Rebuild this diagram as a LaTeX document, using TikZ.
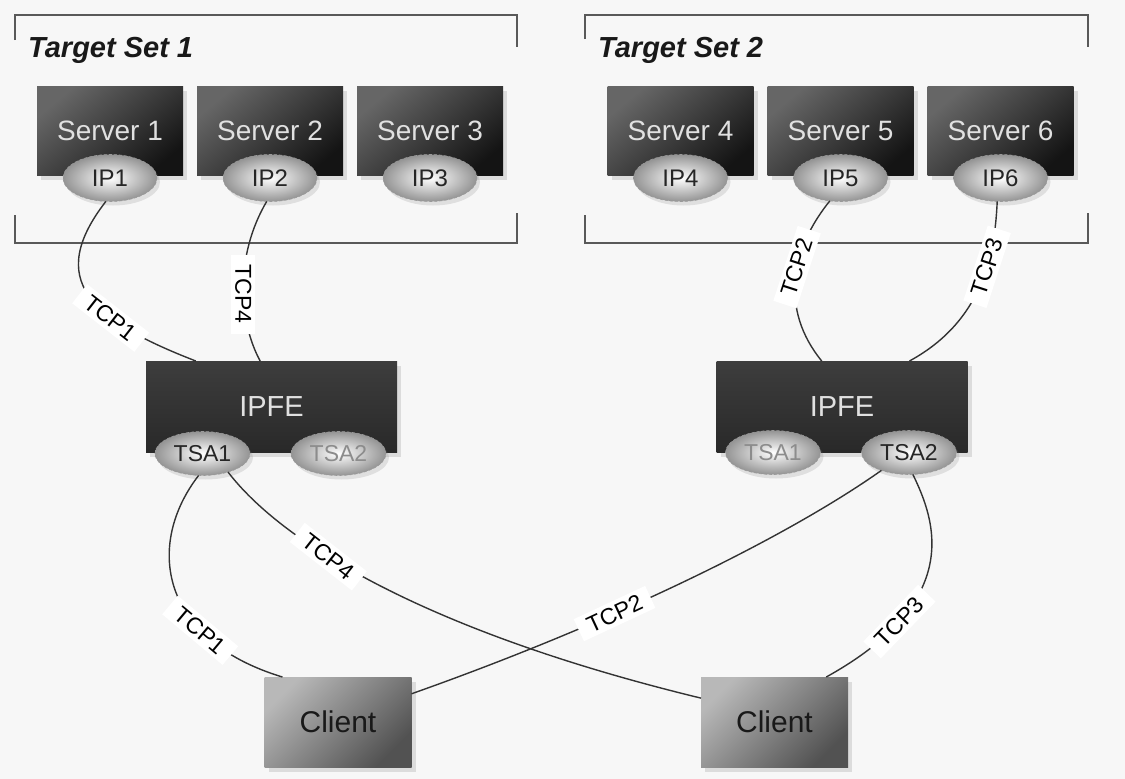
\documentclass[tikz,border=0pt]{standalone}
\usepackage{fontspec}
\setmainfont{Liberation Sans}
\usetikzlibrary{shapes.geometric, shadows}

\definecolor{paper}{RGB}{247,247,247}

\tikzstyle{server} = [rectangle, minimum width=146pt, minimum height=89pt, inner sep=0pt, outer sep=0pt, top color=black!60, bottom color=black!92, shading angle=40, text=black!12, font=\fontsize{28}{30}\selectfont, drop shadow={opacity=0.22, shadow xshift=4pt, shadow yshift=-5pt}]
\tikzstyle{ipaddr} = [ellipse, minimum width=94pt, minimum height=47pt, inner sep=0pt, outer sep=0pt, draw=black!40, densely dashed, line width=0.6pt, inner color=white, outer color=black!42, text=black!85, font=\fontsize{24}{26}\selectfont, drop shadow={opacity=0.2, shadow xshift=3pt, shadow yshift=-4pt}]
\tikzstyle{frontend} = [rectangle, minimum width=251pt, minimum height=91pt, inner sep=0pt, outer sep=0pt, top color=black!76, bottom color=black!84, text=black!12, font=\fontsize{29}{31}\selectfont, drop shadow={opacity=0.22, shadow xshift=4pt, shadow yshift=-5pt}]
\tikzstyle{tsa} = [ellipse, minimum width=95pt, minimum height=44pt, inner sep=0pt, outer sep=0pt, draw=black!40, densely dashed, line width=0.6pt, inner color=white, outer color=black!42, text=black!85, font=\fontsize{23}{25}\selectfont, drop shadow={opacity=0.2, shadow xshift=3pt, shadow yshift=-4pt}]
\tikzstyle{idle} = [text=black!45]
\tikzstyle{client} = [rectangle, minimum width=147pt, minimum height=90pt, inner sep=0pt, outer sep=0pt, top color=black!28, bottom color=black!68, shading angle=45, text=black!90, font=\fontsize{30}{32}\selectfont, drop shadow={opacity=0.22, shadow xshift=4pt, shadow yshift=-5pt}]
\tikzstyle{bracket} = [draw=black!65, line width=2pt]
\tikzstyle{link} = [draw=black!80, line width=1.4pt]
\tikzstyle{conn} = [fill=white, text=black, inner xsep=10pt, inner ysep=4pt, font=\fontsize{23}{25}\selectfont]
\tikzstyle{setname} = [anchor=base west, inner sep=0pt, text=black!90, font=\fontsize{29}{31}\selectfont\bfseries\itshape]

\begin{document}
\begin{tikzpicture}[x=1pt, y=-1pt, node distance=160pt]

\fill [paper] (0,0) rectangle (1125,779);
\useasboundingbox (0,0) rectangle (1125,779);

\draw [bracket] (15,40) -- (15,15) -- (517,15) -- (517,47);
\draw [bracket] (15,215) -- (15,243) -- (517,243) -- (517,213);
\draw [bracket] (585,39) -- (585,15) -- (1088,15) -- (1088,47);
\draw [bracket] (585,215) -- (585,243) -- (1088,243) -- (1088,213);

\node (TS1) [setname] at (28,57) {Target Set 1};

\node (TS2) [setname] at (598,57) {Target Set 2};

\node (S1) [server] at (110,130.5) {Server 1};
\node (S2) [server, right of=S1] {Server 2};
\node (S3) [server, right of=S2] {Server 3};

\node (S4) [server] at (680.5,130.5) {Server 4};
\node (S5) [server, right of=S4] {Server 5};
\node (S6) [server, right of=S5] {Server 6};

\node (IP1) [ipaddr, node distance=47.5pt, below of=S1] {IP1};
\node (IP2) [ipaddr, node distance=47.5pt, below of=S2] {IP2};
\node (IP3) [ipaddr, node distance=47.5pt, below of=S3] {IP3};
\node (IP4) [ipaddr, node distance=47.5pt, below of=S4] {IP4};
\node (IP5) [ipaddr, node distance=47.5pt, below of=S5] {IP5};
\node (IP6) [ipaddr, node distance=47.5pt, below of=S6] {IP6};

\node (F1) [frontend] at (271.5,406.5) {IPFE};

\node (F2) [frontend] at (842,406.5) {IPFE};

\node (T11) [tsa, node distance=47pt, below of=F1, xshift=-69pt] {TSA1};
\node (T12) [tsa, idle, node distance=47pt, below of=F1, xshift=67pt] {TSA2};
\node (T21) [tsa, idle, node distance=46pt, below of=F2, xshift=-69pt] {TSA1};
\node (T22) [tsa, node distance=46pt, below of=F2, xshift=67pt] {TSA2};

\node (C1) [client] at (338,722) {Client};

\node (C2) [client] at (774.5,722) {Client};

\draw [link] (IP1.260) .. controls (45,280) and (90,320) .. node [conn, pos=0.66, rotate=-38] {TCP1} (F1.149);
\draw [link] (IP2.262) .. controls (235,255) and (238,320) .. node [conn, pos=0.55, rotate=-90] {TCP4} (F1.104);
\draw [link] (IP5.245) .. controls (790,250) and (780,310) .. node [conn, pos=0.42, rotate=72] {TCP2} (F2.114);
\draw [link] (IP6.262) .. controls (995,250) and (985,320) .. node [conn, pos=0.40, rotate=72] {TCP3} (F2.34);

\draw [link] (T11.260) .. controls (145,545) and (160,640) .. node [conn, pos=0.7, rotate=-40] {TCP1} (C1.141);
\draw [link] (T11.324) .. controls (280,540) and (420,630) .. node [conn, pos=0.38, rotate=-38] {TCP4} (C2.162);
\draw [link] (T22.213) .. controls (790,535) and (620,620) .. node [conn, pos=0.65, rotate=25] {TCP2} (C1.21);
\draw [link] (T22.280) .. controls (935,520) and (965,600) .. node [conn, pos=0.76, rotate=46] {TCP3} (C2.41);
\end{tikzpicture}
\end{document}
